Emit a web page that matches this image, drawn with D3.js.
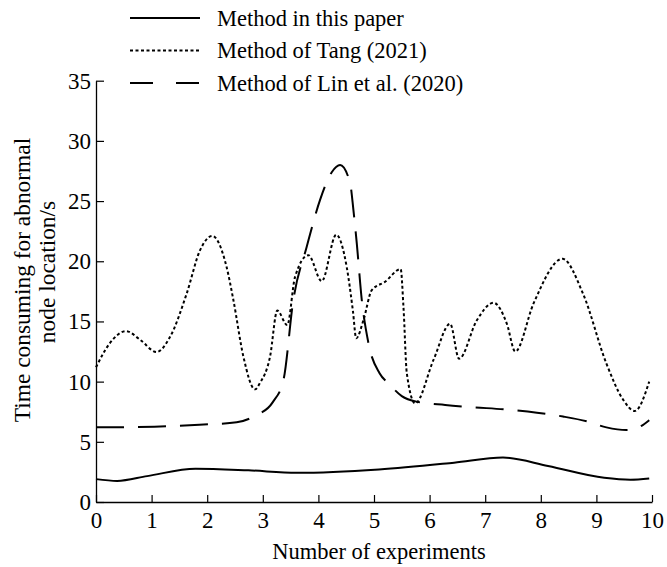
<!DOCTYPE html>
<html><head><meta charset="utf-8">
<script src="https://cdn.jsdelivr.net/npm/d3@7"></script>
<style>body{margin:0;background:#fff}svg{display:block}text{font-family:"Liberation Serif","Times New Roman",serif;fill:#000}</style>
</head><body><svg id="c" width="667" height="567"></svg>
<script>
const seriesNames = ["Method in this paper","Method of Tang (2021)","Method of Lin et al. (2020)"];
const xTicks = [0,1,2,3,4,5,6,7,8,9,10];
const yTicks = [0,5,10,15,20,25,30,35];
const xTitle = "Number of experiments";
const yTitle = ["Time consuming for abnormal","node location/s"];

const oursX = [0,0.38,0.92,1.79,2.74,3.61,5.09,6.44,7.32,8.13,9.14,9.61,9.95];
const oursY = [1.9,1.75,2.15,2.77,2.63,2.43,2.71,3.27,3.69,2.99,2.01,1.85,1.95];

const tangX = [0,0.25,0.54,0.8,1.09,1.33,1.63,1.87,2.09,2.35,2.47,2.65,2.86,2.95,3.13,3.26,3.44,3.58,3.82,4.06,4.32,4.51,4.62,4.68,4.81,4.96,5.2,5.48,5.53,5.59,5.74,6.07,6.37,6.53,6.85,7.15,7.39,7.54,7.87,8.39,8.76,9.18,9.48,9.69,9.95];
const tangY = [11.2,13.2,14.2,13.45,12.46,13.7,17.3,20.9,22.1,19.5,16.8,12.1,9.36,9.9,12.07,15.9,14.7,18.7,20.5,18.35,22.2,19.5,15.9,13.6,15.1,17.6,18.3,19.35,16.2,10.7,8.2,11.8,14.8,11.9,15.1,16.55,14.8,12.5,16.5,20.2,17.3,11.5,8.5,7.56,10.0];

const linX = [0,1.05,1.86,2.53,2.87,3.18,3.37,3.55,3.79,4.03,4.24,4.39,4.57,4.63,4.69,4.78,4.9,5.1,5.26,5.5,5.77,6.28,6.79,7.33,7.93,8.4,8.83,9.18,9.54,9.78,9.95];
const linY = [6.2,6.26,6.42,6.62,7.18,8.3,10.1,16.8,21.2,25.1,27.4,28.0,26.5,24.25,21.5,16.8,13.2,10.7,9.86,8.8,8.33,8.06,7.87,7.7,7.42,7.1,6.7,6.2,5.98,6.25,6.8];

const FONT = '"Liberation Serif","Times New Roman",serif';
const svg = d3.select("#c");
const x = d3.scaleLinear().domain([0,10]).range([96,652]);
const y = d3.scaleLinear().domain([0,35]).range([502,80.7]);

const styles = [
  {dash:null, lw:2},
  {dash:"3,2.5", lw:2},
  {dash:"28,14", lw:2}
];
const legendDash = [null,"3,2.5","23,23"];

// axes
const xa = svg.append("g").attr("transform","translate(0,502)")
  .call(d3.axisBottom(x).tickValues(xTicks).tickSizeInner(-7).tickSizeOuter(0).tickPadding(10));
const ya = svg.append("g").attr("transform","translate(96,0)")
  .call(d3.axisLeft(y).tickValues(yTicks).tickSizeInner(-8).tickSizeOuter(0).tickPadding(5));
[xa,ya].forEach(a=>{
  a.attr("font-family",null).attr("font-size",null);
  a.select(".domain").attr("stroke","#000").attr("stroke-width",1.3);
  a.selectAll(".tick line").attr("stroke","#000").attr("stroke-width",1.2);
  a.selectAll(".tick text").style("font-size","23px").style("font-family",FONT).attr("fill","#000");
});
xa.selectAll(".tick text").attr("dy","0.71em");

// titles
svg.append("text").attr("x",379).attr("y",559).attr("text-anchor","middle")
  .style("font-size","22.5px").style("font-family",FONT).text(xTitle);
const yc = [280,272];
yTitle.forEach((t,i)=>{
  svg.append("text").attr("transform",`translate(${22+i*25},${yc[i]}) rotate(-90)`)
    .attr("text-anchor","middle").attr("dy","0.35em")
    .style("font-size","23.4px").style("font-family",FONT).text(t);
});

// lines
const data = [
  oursX.map((v,i)=>[v,oursY[i]]),
  tangX.map((v,i)=>[v,tangY[i]]),
  linX.map((v,i)=>[v,linY[i]])
];
const line = d3.line().x(d=>x(d[0])).y(d=>y(d[1])).curve(d3.curveMonotoneX);
data.forEach((d,i)=>{
  svg.append("path").datum(d).attr("d",line).attr("fill","none").attr("stroke","#000")
    .attr("stroke-width",styles[i].lw).attr("stroke-dasharray",styles[i].dash);
});

// legend
seriesNames.forEach((n,i)=>{
  const cy = 18 + i*32.5;
  svg.append("line").attr("x1",130).attr("x2",200).attr("y1",cy).attr("y2",cy)
    .attr("stroke","#000").attr("stroke-width",2).attr("stroke-dasharray",legendDash[i]);
  svg.append("text").attr("x",217).attr("y",cy).attr("dy","0.35em")
    .style("font-size","22.5px").style("font-family",FONT).text(n);
});
</script></body></html>
